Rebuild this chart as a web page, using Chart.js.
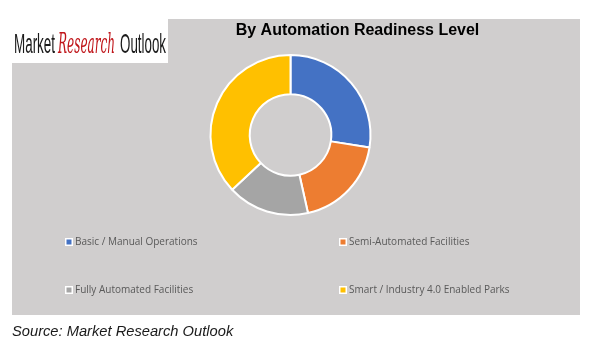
<!DOCTYPE html>
<html><head><meta charset="utf-8">
<script src="https://cdn.jsdelivr.net/npm/chart.js@4"></script>
<style>html,body{margin:0;padding:0;background:#fff;}canvas{display:block;}</style>
</head><body>
<canvas id="c" width="594" height="356"></canvas>
<script>
const categories = ["Basic / Manual Operations", "Semi-Automated Facilities", "Fully Automated Facilities", "Smart / Industry 4.0 Enabled Parks"];
const shares = [27.5, 19, 16.5, 37];
const colors = ["#4472C4", "#ED7D31", "#A5A5A5", "#FFC000"];
const titleText = "By Automation Readiness Level";
const sourceText = "Source: Market Research Outlook";

const deco = {
  id: 'deco',
  beforeDraw(chart) {
    const ctx = chart.ctx;
    ctx.save();
    ctx.fillStyle = '#fff';
    ctx.fillRect(0, 0, 594, 356);
    ctx.fillStyle = '#D0CECE';
    ctx.fillRect(12, 19, 568, 296);
    ctx.fillStyle = '#fff';
    ctx.fillRect(12, 19, 156, 44);
    // logo, each word fitted to a target width
    ctx.textBaseline = 'alphabetic';
    const drawFit = (txt, x, y, font, color, w) => {
      ctx.save();
      ctx.font = font; ctx.fillStyle = color;
      const m = ctx.measureText(txt).width;
      ctx.translate(x, y); ctx.scale(w / m, 1);
      ctx.fillText(txt, 0, 0);
      ctx.restore();
    };
    drawFit("Market", 14, 53, "28px 'Liberation Sans Narrow', 'Liberation Sans'", '#1a1a1a', 41);
    drawFit("Research", 58, 53, "italic 27px 'DejaVu Serif', serif", '#C0161B', 57);
    drawFit("Outlook", 120, 53, "28px 'Liberation Sans Narrow', 'Liberation Sans'", '#1a1a1a', 46);
    ctx.restore();
  },
  afterDraw(chart) {
    const ctx = chart.ctx;
    ctx.save();
    ctx.fillStyle = '#000';
    ctx.font = "bold 16px 'Liberation Sans', Arial";
    ctx.textAlign = 'center';
    ctx.textBaseline = 'middle';
    ctx.fillText(titleText, 357.5, 30.5);
    // legend
    ctx.textAlign = 'left';
    ctx.font = "10px 'Open Sans', sans-serif";
    const pos = [[65, 242], [339, 242], [65, 290], [339, 290]];
    categories.forEach((c, i) => {
      const [px, py] = pos[i];
      ctx.fillStyle = '#fff';
      ctx.fillRect(px, py - 4, 8, 8);
      ctx.fillStyle = colors[i];
      ctx.fillRect(px + 1.5, py - 2.5, 5, 5);
      ctx.fillStyle = '#595959';
      ctx.fillText(c, px + 10, py);
    });
    ctx.fillStyle = '#1a1a1a';
    ctx.font = "italic 14.7px 'Liberation Sans', Arial";
    ctx.fillText(sourceText, 12, 332);
    ctx.restore();
  }
};

new Chart(document.getElementById('c'), {
  type: 'doughnut',
  data: {
    labels: categories,
    datasets: [{
      data: shares,
      backgroundColor: colors,
      borderColor: '#ffffff',
      borderWidth: 2
    }]
  },
  options: {
    responsive: false,
    animation: false,
    cutout: '51%',
    layout: { padding: { left: 209, right: 222, top: 54, bottom: 140 } },
    plugins: { legend: { display: false }, title: { display: false }, tooltip: { enabled: false } }
  },
  plugins: [deco]
});
</script>
</body></html>
